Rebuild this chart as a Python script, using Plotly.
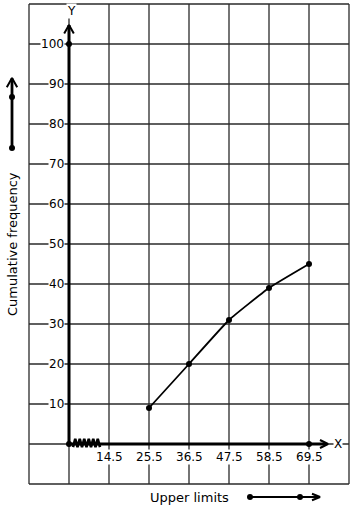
import plotly.graph_objects as go

# ---- data ----
upper_limits = [14.5, 25.5, 36.5, 47.5, 58.5, 69.5]
tick_labels = ["14.5", "25.5", "36.5", "47.5", "58.5", "69.5"]
plot_limits = [25.5, 36.5, 47.5, 58.5, 69.5]
cum_freq = [9, 20, 31, 39, 45]
y_ticks = [10, 20, 30, 40, 50, 60, 70, 80, 90, 100]

# x positions: the axis is broken; each upper limit sits one grid cell further
def xpos(v):
    return upper_limits.index(v) + 1

FONT = "DejaVu Sans"
BLACK = "#000000"
GRID = "#2a2a2a"

fig = go.Figure()

# grid
shapes = []
for gx in range(-1, 8):
    shapes.append(dict(type="line", x0=gx, x1=gx, y0=-10, y1=110,
                       line=dict(color=GRID, width=1.3), layer="below"))
for gy in range(-10, 111, 10):
    shapes.append(dict(type="line", x0=-1, x1=7, y0=gy, y1=gy,
                       line=dict(color=GRID, width=1.3), layer="below"))

def seg(xs, ys, w=3):
    fig.add_trace(go.Scatter(x=xs, y=ys, mode="lines",
                             line=dict(color=BLACK, width=w),
                             hoverinfo="skip", showlegend=False))

def dots(xs, ys, s=6):
    fig.add_trace(go.Scatter(x=xs, y=ys, mode="markers",
                             marker=dict(color=BLACK, size=s),
                             hoverinfo="skip", showlegend=False, cliponaxis=False))

# Y axis with arrow
y_tip = 104.75
seg([0, 0], [0, y_tip], 3)
seg([-0.12, 0, 0.12], [y_tip - 2.1, y_tip, y_tip - 2.1], 2)

# X axis with arrow
x_tip = 6.475
seg([0, x_tip - 0.05], [0, 0], 3)
seg([x_tip - 0.2, x_tip, x_tip - 0.2], [1.0, 0, -1.0], 2)

# axis break zigzag near origin
n = 12
zx = [0.1 + i * (0.675 / n) for i in range(n + 1)]
zy = [(1.3 if i % 2 else -0.8) for i in range(n + 1)]
seg(zx, zy, 2.6)

# special dots on axes
dots([0, 0, xpos(69.5)], [0, 100, 0], 6)

# ogive
fig.add_trace(go.Scatter(x=[xpos(v) for v in plot_limits], y=cum_freq,
                         mode="lines+markers",
                         line=dict(color=BLACK, width=1.8, shape="spline", smoothing=0.4),
                         marker=dict(color=BLACK, size=6),
                         hoverinfo="skip", showlegend=False))

# left decorative arrow (y direction)
lx = -1.425
seg([lx, lx], [74, 91.4], 2.8)
seg([lx - 0.13, lx, lx + 0.13], [89.2, 91.5, 89.2], 2)
dots([lx, lx], [74, 86.75], 6)

# bottom decorative arrow (x direction)
by = -13.25
seg([4.525, 6.25], [by, by], 2)
seg([6.075, 6.275, 6.075], [by + 0.8, by, by - 0.8], 2)
dots([4.525, 5.775], [by, by], 6)

annotations = []
for t in y_ticks:
    annotations.append(dict(x=-0.1, y=t, text=str(t), showarrow=False,
                            xanchor="right", yanchor="middle",
                            font=dict(family=FONT, size=12, color=BLACK),
                            bgcolor="white", borderpad=0))
for v, lab in zip(upper_limits, tick_labels):
    annotations.append(dict(x=xpos(v), y=-3.25, text=lab, showarrow=False,
                            xanchor="center", yanchor="middle",
                            font=dict(family=FONT, size=12, color=BLACK),
                            bgcolor="white", borderpad=0))
annotations.append(dict(x=0.05, y=108.2, text="Y", showarrow=False,
                        xanchor="center", yanchor="middle",
                        font=dict(family=FONT, size=12, color=BLACK),
                        bgcolor="white", borderpad=0))
annotations.append(dict(x=6.725, y=0, text="X", showarrow=False,
                        xanchor="center", yanchor="middle",
                        font=dict(family=FONT, size=12, color=BLACK),
                        bgcolor="white", borderpad=0))
annotations.append(dict(x=-1.425, y=50, text="Cumulative frequency", showarrow=False,
                        textangle=-90, xanchor="center", yanchor="middle",
                        font=dict(family=FONT, size=13, color=BLACK)))
annotations.append(dict(x=3.0, y=-13.25, text="Upper limits", showarrow=False,
                        xanchor="center", yanchor="middle",
                        font=dict(family=FONT, size=13, color=BLACK)))

fig.update_layout(
    width=354, height=510,
    margin=dict(l=0, r=0, t=0, b=0),
    paper_bgcolor="white", plot_bgcolor="white",
    xaxis=dict(range=[-69 / 40, (354 - 69) / 40], visible=False, fixedrange=True),
    yaxis=dict(range=[(444 - 510) / 4, 444 / 4], visible=False, fixedrange=True),
    shapes=shapes, annotations=annotations,
    hovermode=False,
)

fig.write_html("out.html", config={"displayModeBar": False})
